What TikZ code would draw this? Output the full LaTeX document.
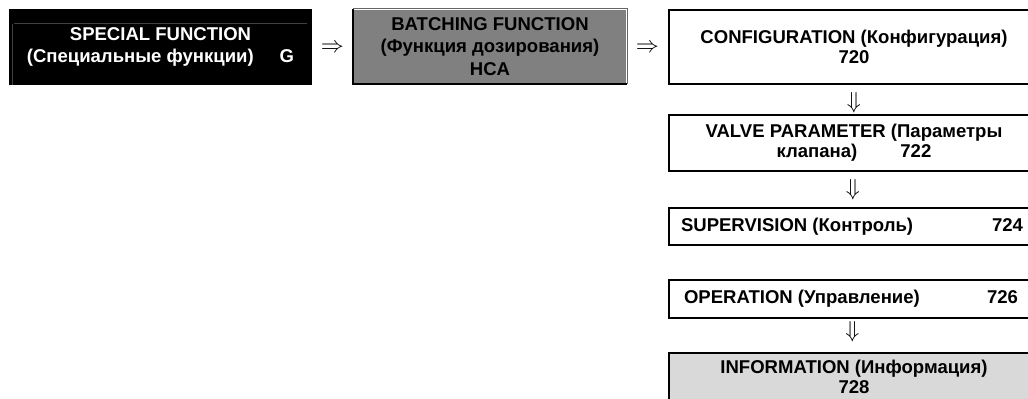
\documentclass[tikz,border=0pt]{standalone}
\usepackage{fontspec}
\setmainfont{Liberation Sans}
\usetikzlibrary{calc}
\begin{document}
\begin{tikzpicture}[x=0.75pt,y=-0.75pt,
  box/.style={draw=black, line width=1.5pt, anchor=north west, inner sep=0pt,
    align=center, font=\bfseries\fontsize{13.9}{15}\selectfont},
  rarr/.style={inner sep=0pt, font=\fontsize{17}{17}\selectfont},
  darr/.style={inner sep=0pt, font=\fontsize{16}{16}\selectfont}]
\useasboundingbox (0,0) rectangle (1028,399);

% menu path: special functions -> batching
\node[box, fill=black, text=white, minimum width=225.75pt, minimum height=55.5pt,
  font=\bfseries\fontsize{13.9}{17}\selectfont] (sf) at (9,9)
  {SPECIAL FUNCTION\\(Специальные функции)\hspace{19.5pt}G};
\draw[black!75, line width=0.75pt] ($(sf.north west)+(5,15)$) -- ($(sf.north east)+(-5,15)$);
\draw[black!75, line width=0.75pt] ($(sf.north west)+(3,15)$) -- ($(sf.south west)+(3,0)$);

\node[box, draw=none, fill=black!50, minimum width=204pt, minimum height=54.75pt,
  font=\bfseries\fontsize{13.9}{16.9}\selectfont] (bf) at (353,9)
  {BATCHING FUNCTION\\(Функция дозирования)\\HCA};
\draw[line width=0.75pt, black!60] (bf.north west) -- (bf.north east) -- (bf.south east);
\draw[line width=1.5pt, black] (bf.north west) -- (bf.south west) -- (bf.south east);

% function groups
\node[box, minimum width=277.5pt, minimum height=55.5pt] (cfg) at (668,9)
  {CONFIGURATION (Конфигурация)\\720};
\node[box, minimum width=277.5pt, minimum height=42pt] (valve) at (668,114)
  {VALVE PARAMETER (Параметры\\клапана)\hspace{32.25pt}722};
\node[box, align=left, inner xsep=9pt, inner ysep=0pt, minimum height=27.75pt] (sup) at (668,207)
  {\makebox[256.5pt]{SUPERVISION (Контроль)\hfill 724}};
\node[box, align=left, inner xsep=11.25pt, inner ysep=0pt, minimum height=28.5pt] (op) at (668,279)
  {\makebox[250.5pt]{OPERATION (Управление)\hfill 726}};
\node[box, fill=black!15, minimum width=277.5pt, minimum height=36pt] (info) at (668,352)
  {INFORMATION (Информация)\\728};

% arrows between the steps
\node[rarr] (r1) at ($(sf.east)!0.5!(bf.west)+(0,2)$) {$\Rightarrow$};
\node[rarr] (r2) at ($(bf.east)!0.5!(cfg.west)+(0,2)$) {$\Rightarrow$};
\node[darr] (d1) at ($(cfg.south)!0.5!(valve.north)+(0,3)$) {$\Downarrow$};
\node[darr] (d2) at ($(valve.south)!0.5!(sup.north)$) {$\Downarrow$};
\node[darr] (d3) at ($(op.south)!0.5!(info.north)+(0,-4)$) {$\Downarrow$};
\end{tikzpicture}
\end{document}
